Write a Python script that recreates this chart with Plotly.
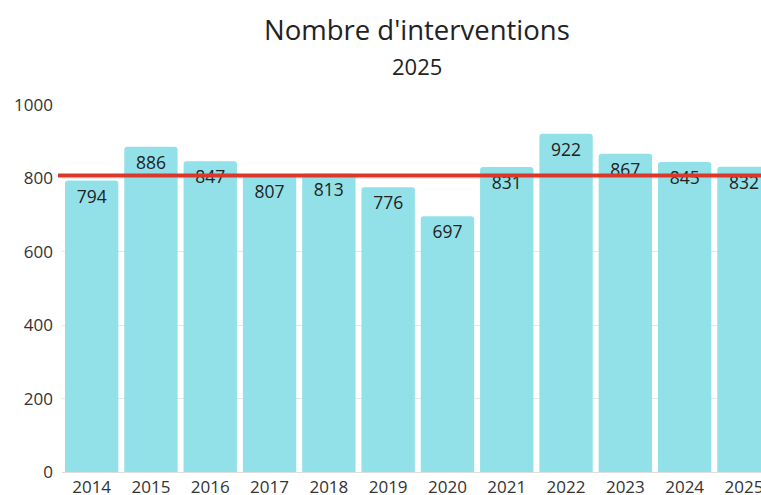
import plotly.graph_objects as go

# Yearly intervention counts
years = ["2014", "2015", "2016", "2017", "2018", "2019", "2020",
         "2021", "2022", "2023", "2024", "2025"]
interventions = [794, 886, 847, 807, 813, 776, 697, 831, 922, 867, 845, 832]

# Reference level shown as the red horizontal line
reference_level = [808]

title_text = "Nombre d'interventions"
subtitle_text = "2025"

W, H = 761, 495
ML, MT, MB = 62, 105, 23
plot_w = W - ML
plot_h = H - MT - MB

fig = go.Figure(
    go.Bar(
        x=years,
        y=interventions,
        text=[str(v) for v in interventions],
        textposition="inside",
        insidetextanchor="end",
        textangle=0,
        textfont=dict(family="Open Sans", size=17.5, color="#222222"),
        marker=dict(color="#93e1e8", line=dict(width=0)),
        hoverinfo="x+y",
    )
)

fig.add_shape(
    type="line",
    xref="paper", yref="y",
    x0=-4 / plot_w, x1=1,
    y0=reference_level[0], y1=reference_level[0],
    line=dict(color="#d9382a", width=4),
    layer="above",
)

fig.add_annotation(
    text=title_text, xref="paper", yref="paper",
    x=(417 - ML) / plot_w, y=1 + (MT - 30) / plot_h,
    xanchor="center", yanchor="middle", showarrow=False,
    font=dict(family="Open Sans", size=27.5, color="#222222"),
)
fig.add_annotation(
    text=subtitle_text, xref="paper", yref="paper",
    x=(417 - ML) / plot_w, y=1 + (MT - 66) / plot_h,
    xanchor="center", yanchor="middle", showarrow=False,
    font=dict(family="Open Sans", size=22, color="#222222"),
)

fig.update_layout(
    width=W, height=H,
    margin=dict(l=ML, r=0, t=MT, b=MB, pad=0),
    paper_bgcolor="white",
    plot_bgcolor="white",
    bargap=0.1,
    barcornerradius=3,
    showlegend=False,
    font=dict(family="Open Sans", color="#333333"),
)

fig.update_xaxes(
    type="category",
    range=[-0.5, -0.5 + plot_w / 59.3],
    showgrid=False,
    showline=True, linecolor="#dddddd", linewidth=1,
    ticks="", tickfont=dict(size=17, color="#333333"),
    automargin=False,
    ticklabelstandoff=0,
)
fig.update_yaxes(
    range=[0, 1000],
    tickvals=[0, 200, 400, 600, 800, 1000],
    showgrid=True, gridcolor="#e6e6e6", gridwidth=1,
    zeroline=False,
    showline=False,
    ticks="", tickfont=dict(size=17, color="#333333"),
    automargin=False,
    ticklabelstandoff=8,
)

fig.write_html("out.html")
